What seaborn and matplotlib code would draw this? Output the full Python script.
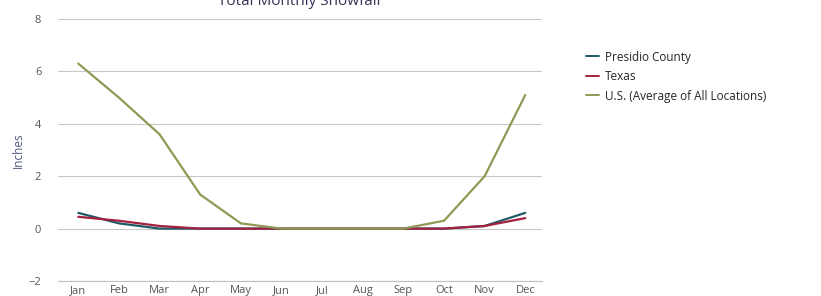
import numpy as np
import pandas as pd
import seaborn as sns
import matplotlib.pyplot as plt

months = ['Jan', 'Feb', 'Mar', 'Apr', 'May', 'Jun', 'Jul', 'Aug', 'Sep', 'Oct', 'Nov', 'Dec']
presidio = [0.6, 0.2, 0.0, 0.0, 0.0, 0.0, 0.0, 0.0, 0.0, 0.0, 0.1, 0.6]
texas = [0.45, 0.3, 0.1, 0.0, 0.0, 0.0, 0.0, 0.0, 0.0, 0.0, 0.1, 0.4]
us_avg = [6.3, 5.0, 3.6, 1.3, 0.2, 0.0, 0.0, 0.0, 0.0, 0.3, 2.0, 5.1]

series_names = ['Presidio County', 'Texas', 'U.S. (Average of All Locations)']
colors = ['#1f5b68', '#a3213f', '#8e9a55']

df = pd.DataFrame({
    'month': list(range(12)) * 3,
    'value': presidio + texas + us_avg,
    'series': [series_names[0]] * 12 + [series_names[1]] * 12 + [series_names[2]] * 12,
})

sns.set_style('white')
plt.rcParams['font.family'] = ['Open Sans', 'DejaVu Sans']

fig = plt.figure(figsize=(8.21, 2.96), dpi=100)
ax = fig.add_axes([0.0706, 0.0507, 0.589, 0.885])

sns.lineplot(data=df, x='month', y='value', hue='series', palette=colors,
             linewidth=1.6, ax=ax, legend=True)

ax.set_xlim(-0.5, 11.4)
ax.set_ylim(-2, 8)
ax.set_yticks([-2, 0, 2, 4, 6, 8])
ax.set_yticklabels(['\u22122', '0', '2', '4', '6', '8'])
ax.set_xticks(range(12))
ax.set_xticklabels(months)
ax.set_xticks(np.arange(-0.5, 11.5, 1), minor=True)
ax.tick_params(axis='x', which='major', length=0, labelsize=8, colors='#555555', pad=3)
ax.tick_params(axis='x', which='minor', length=4, color='#c0c0c0')
ax.tick_params(axis='y', length=0, labelsize=8, colors='#555555', pad=12)
ax.grid(axis='y', color='#c8c8c8', linewidth=0.8)
for s in ['top', 'right', 'left']:
    ax.spines[s].set_visible(False)
ax.spines['bottom'].set_color('#c0c0c0')
ax.set_xlabel('')
ax.set_ylabel('Inches', color='#4d5a80', fontsize=8.5, labelpad=3)

ax.set_title('Total Monthly Snowfall', fontsize=11, color='#333355', y=1.02)

leg = ax.legend(loc='upper left', bbox_to_anchor=(1.07, 0.92), frameon=False,
                fontsize=8.5, handlelength=1.1, handletextpad=0.5, labelspacing=0.55)
for line in leg.get_lines():
    line.set_linewidth(1.4)

fig.savefig('out.png', dpi=100)
